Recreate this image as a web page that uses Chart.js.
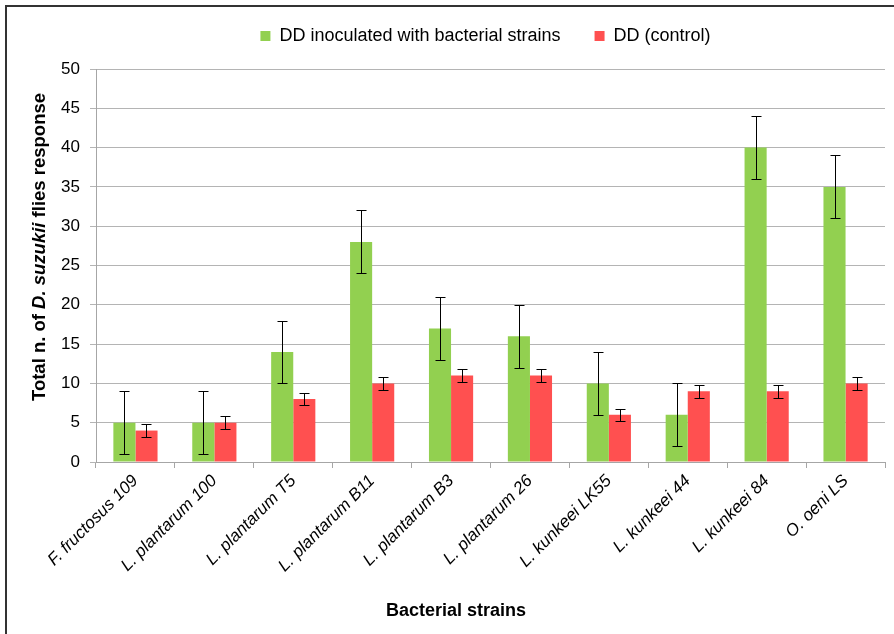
<!DOCTYPE html>
<html>
<head>
<meta charset="utf-8">
<script src="https://cdn.jsdelivr.net/npm/chart.js@4"></script>
<style>
  html, body { margin: 0; padding: 0; background: #fff; }
  #wrap { position: relative; width: 894px; height: 634px; }
  #frame { position: absolute; left: 5px; top: 5px; right: 0; bottom: 0;
           border-left: 2px solid #333; border-top: 2px solid #333; pointer-events: none; }
</style>
</head>
<body>
<div id="wrap">
  <canvas id="grafico" width="894" height="634"></canvas>
  <div id="frame"></div>
</div>
<script>
// dados
const categorias = ['F. fructosus 109', 'L. plantarum 100', 'L. plantarum T5', 'L. plantarum B11',
  'L. plantarum B3', 'L. plantarum 26', 'L. kunkeei LK55', 'L. kunkeei 44', 'L. kunkeei 84', 'O. oeni LS'];
const inoculados = [5, 5, 14, 28, 17, 16, 10, 6, 40, 35];
const controle = [4, 5, 8, 10, 11, 11, 6, 9, 9, 10];
const erroInoculados = [4, 4, 4, 4, 4, 4, 4, 4, 4, 4];
const erroControle = [0.8, 0.8, 0.8, 0.8, 0.8, 0.8, 0.8, 0.8, 0.8, 0.8];
const ticksY = [0, 5, 10, 15, 20, 25, 30, 35, 40, 45, 50];

const fonte = 'Liberation Sans, Arial, sans-serif';

// barras de erro
const errorBars = {
  id: 'errorBars',
  afterDatasetsDraw(chart) {
    const ctx = chart.ctx;
    const y = chart.scales.y;
    const erros = [erroInoculados, erroControle];
    ctx.save();
    ctx.strokeStyle = '#000';
    ctx.lineWidth = 1;
    chart.data.datasets.forEach((ds, i) => {
      const meta = chart.getDatasetMeta(i);
      meta.data.forEach((bar, j) => {
        const v = ds.data[j], e = erros[i][j];
        const x = Math.round(bar.x) + 0.5;
        const top = Math.round(y.getPixelForValue(v + e)) + 0.5;
        const bot = Math.round(y.getPixelForValue(v - e)) + 0.5;
        ctx.beginPath();
        ctx.moveTo(x, top); ctx.lineTo(x, bot);
        ctx.moveTo(x - 5, top); ctx.lineTo(x + 5, top);
        ctx.moveTo(x - 5, bot); ctx.lineTo(x + 5, bot);
        ctx.stroke();
      });
    });
    ctx.restore();
  }
};

// titulos dos eixos (com partes em italico)
const axisTitles = {
  id: 'axisTitles',
  afterDraw(chart) {
    const ctx = chart.ctx;
    ctx.save();
    ctx.fillStyle = '#000';
    ctx.textBaseline = 'middle';
    // eixo x
    ctx.font = 'bold 18px ' + fonte;
    ctx.textAlign = 'center';
    ctx.fillText('Bacterial strains', 456, 611);
    // eixo y
    const partes = [
      ['bold 18.5px ' + fonte, 'Total n. of '],
      ['italic bold 18.5px ' + fonte, 'D. suzukii'],
      ['bold 18.5px ' + fonte, ' flies response']
    ];
    let total = 0;
    partes.forEach(p => { ctx.font = p[0]; total += ctx.measureText(p[1]).width; });
    ctx.translate(40, 247);
    ctx.rotate(-Math.PI / 2);
    ctx.textAlign = 'left';
    let x = -total / 2;
    partes.forEach(p => { ctx.font = p[0]; ctx.fillText(p[1], x, 0); x += ctx.measureText(p[1]).width; });
    ctx.restore();
  }
};

// altura fixa da legenda e deslocamento para o centro da area do grafico
const legendHeight = {
  id: 'legendHeight',
  afterInit(chart) {
    const lg = chart.legend;
    const fit = lg.fit.bind(lg);
    lg.fit = function () { fit(); this.height = 69; };
  },
  afterLayout(chart) {
    chart.legend.left += 43;
    chart.legend.right += 43;
    chart.legend.top -= 7;
    chart.legend.bottom -= 7;
  }
};

const ctx = document.getElementById('grafico').getContext('2d');
new Chart(ctx, {
  type: 'bar',
  data: {
    labels: categorias,
    datasets: [
      { label: 'DD inoculated with bacterial strains', data: inoculados, backgroundColor: '#92D050',
        borderWidth: 0, categoryPercentage: 0.56, barPercentage: 1 },
      { label: 'DD (control)', data: controle, backgroundColor: '#FF5050',
        borderWidth: 0, categoryPercentage: 0.56, barPercentage: 1 }
    ]
  },
  options: {
    responsive: false,
    animation: false,
    layout: { padding: { left: 0, right: 9, top: 0, bottom: 0 } },
    plugins: {
      legend: {
        position: 'top',
        labels: {
          boxWidth: 10, boxHeight: 10, padding: 34, color: '#000',
          font: { family: fonte, size: 18 }
        }
      },
      tooltip: { enabled: false }
    },
    scales: {
      x: {
        grid: { drawOnChartArea: false, color: '#a6a6a6', tickLength: 6, offset: true },
        border: { color: '#a6a6a6' },
        ticks: {
          color: '#000', maxRotation: 45, minRotation: 45, autoSkip: false,
          font: { family: fonte, size: 17, style: 'italic' }
        },
        afterFit(scale) { scale.height = 172; }
      },
      y: {
        min: 0, max: 50,
        afterBuildTicks(scale) { scale.ticks = ticksY.map(v => ({ value: v })); },
        grid: { color: '#b4b4b4', tickLength: 6 },
        border: { color: '#a6a6a6' },
        ticks: { color: '#000', padding: 10, font: { family: fonte, size: 17 } },
        afterFit(scale) { scale.width = 96; }
      }
    }
  },
  plugins: [errorBars, axisTitles, legendHeight]
});
</script>
</body>
</html>
